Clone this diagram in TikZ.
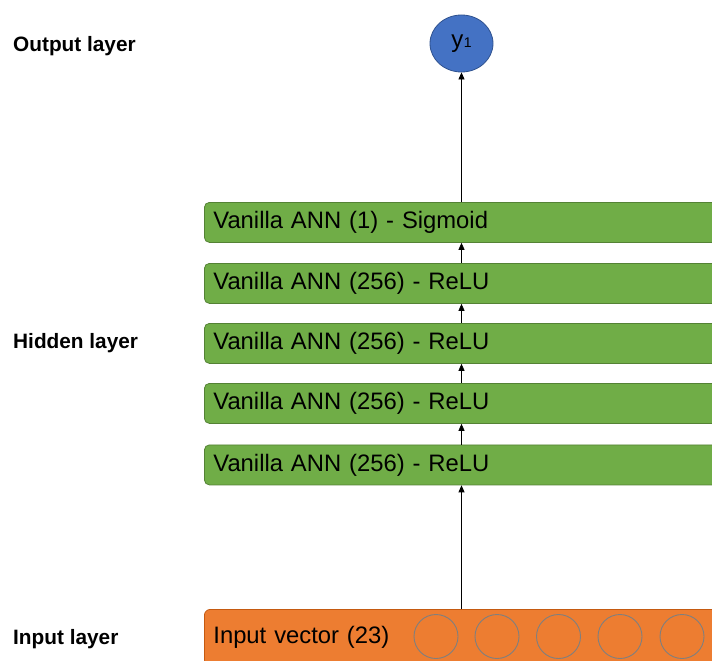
\documentclass[tikz,border=0pt]{standalone}
\usepackage{fontspec}
\setmainfont{Liberation Sans}
\usetikzlibrary{arrows.meta,shapes.geometric}

\definecolor{layergreen}{HTML}{70AD47}
\definecolor{layergreenline}{HTML}{548235}
\definecolor{inputorange}{HTML}{ED7D31}
\definecolor{inputorangeline}{HTML}{C55A11}
\definecolor{outblue}{HTML}{4472C4}
\definecolor{outblueline}{HTML}{2F528F}
\definecolor{unitline}{HTML}{7F7F7F}

\begin{document}
\begin{tikzpicture}[x=1pt,y=-1pt,
  layerbox/.style={draw=layergreenline, fill=layergreen, line width=0.8pt,
    rounded corners=5pt, anchor=north west, minimum width=540pt,
    minimum height=40pt, text width=522pt, align=left, inner xsep=9pt,
    inner ysep=0pt, font=\fontsize{23.8}{28}\selectfont},
  inputbox/.style={draw=inputorangeline, fill=inputorange, line width=0.8pt,
    rounded corners=6pt, anchor=north west, minimum width=540pt,
    minimum height=56pt, text width=522pt, align=left, inner xsep=9pt,
    inner ysep=0pt, font=\fontsize{23.8}{28}\selectfont},
  unit/.style={circle, draw=unitline, line width=0.9pt, minimum size=44pt, inner sep=0pt},
  outunit/.style={ellipse, draw=outblueline, fill=outblue, line width=0.8pt,
    minimum width=63pt, minimum height=57pt, inner sep=0pt},
  layerlabel/.style={anchor=base west, inner sep=0pt,
    font=\bfseries\fontsize{20.8}{24}\selectfont},
  feed/.style={-{Triangle[length=7pt,width=6pt]}, line width=0.8pt, black},
]
\useasboundingbox (0,0) rectangle (712,661);
\clip (0,0) rectangle (712,661);

% layer captions
\node[layerlabel] (lblout) at (13,52) {Output layer};
\node[layerlabel] (lblhid) at (13,348) {Hidden layer};
\node[layerlabel] (lblin)  at (13,644) {Input layer};

% output neuron
\node[outunit] (out) at (461.5,43.5)
  {\fontsize{24}{28}\selectfont y\kern0.5pt{\fontsize{14}{14}\selectfont 1}};

% dense layers, top to bottom
\node[layerbox] (d1) at (204,202) {Vanilla ANN (1) - Sigmoid};
\node[layerbox] (d2) at (204,263) {Vanilla ANN (256) - ReLU};
\node[layerbox] (d3) at (204,323) {Vanilla ANN (256) - ReLU};
\node[layerbox] (d4) at (204,383) {Vanilla ANN (256) - ReLU};
\node[layerbox] (d5) at (204,444.5) {Vanilla ANN (256) - ReLU};

% input vector with its units
\node[inputbox] (inp) at (204,609) {Input vector (23)};
\node[unit] (u1) at (436,636.5) {};
\node[unit] (u2) at (497,636.5) {};
\node[unit] (u3) at (558.5,636.5) {};
\node[unit] (u4) at (620,636.5) {};
\node[unit] (u5) at (682,636.5) {};

% forward connections
\draw[feed] (inp.north -| out.south) -- (d5.south -| out.south);
\draw[feed] (d5.north -| out.south) -- (d4.south -| out.south);
\draw[feed] (d4.north -| out.south) -- (d3.south -| out.south);
\draw[feed] (d3.north -| out.south) -- (d2.south -| out.south);
\draw[feed] (d2.north -| out.south) -- (d1.south -| out.south);
\draw[feed] (d1.north -| out.south) -- (out.south);
\end{tikzpicture}
\end{document}
